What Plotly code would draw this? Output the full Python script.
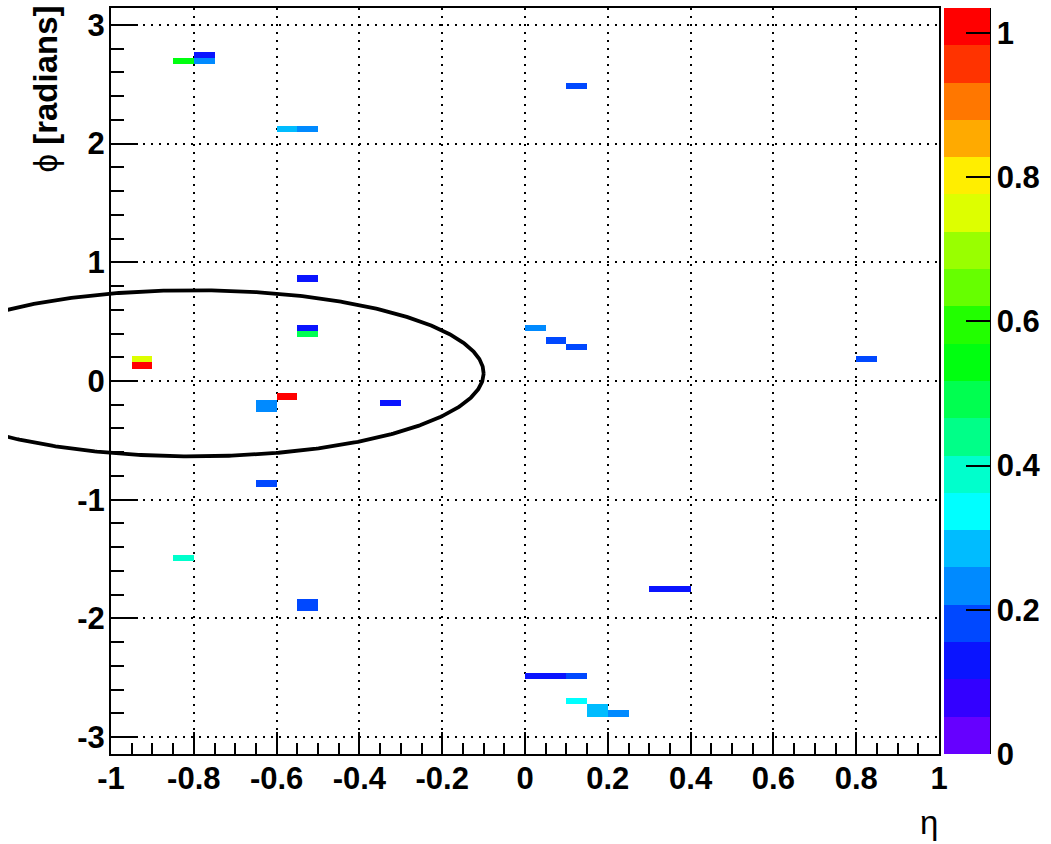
import numpy as np
import plotly.graph_objects as go

# ---------------- data ----------------
# filled cells of the 2D histogram (eta bin centre, phi bin centre, content)
cell_eta = [-0.775, -0.825, -0.775, 0.125, -0.575, -0.525, -0.525, -0.525, -0.525,
            -0.925, -0.925, 0.025, 0.075, 0.125, 0.825, -0.575, -0.625, -0.625,
            -0.325, -0.625, -0.825, -0.525, -0.525, 0.325, 0.375, 0.025, 0.075,
            0.125, 0.125, 0.175, 0.175, 0.225]
cell_phi = [2.749, 2.697, 2.697, 2.487, 2.121, 2.121, 0.864, 0.445, 0.393,
            0.183, 0.131, 0.445, 0.340, 0.288, 0.183, -0.131, -0.183, -0.236,
            -0.183, -0.864, -1.492, -1.859, -1.911, -1.754, -1.754, -2.487, -2.487,
            -2.487, -2.697, -2.749, -2.801, -2.801]
cell_val = [0.13, 0.54, 0.23, 0.18, 0.28, 0.24, 0.13, 0.13, 0.49,
            0.75, 1.035, 0.23, 0.18, 0.18, 0.19, 0.99, 0.24, 0.24,
            0.12, 0.18, 0.39, 0.18, 0.18, 0.13, 0.13, 0.12, 0.12,
            0.18, 0.34, 0.29, 0.29, 0.24]

n_eta_bins, eta_min, eta_max = 40, -1.0, 1.0
n_phi_bins = 120
z_min, z_max = 0.0, 1.0347

x_tickvals = [-1, -0.8, -0.6, -0.4, -0.2, 0, 0.2, 0.4, 0.6, 0.8, 1]
x_ticktext = ["-1", "-0.8", "-0.6", "-0.4", "-0.2", "0", "0.2", "0.4", "0.6", "0.8", "1"]
y_tickvals = [-3, -2, -1, 0, 1, 2, 3]
y_ticktext = ["-3", "-2", "-1", "0", "1", "2", "3"]
cb_tickvals = [0, 0.2, 0.4, 0.6, 0.8, 1]
cb_ticktext = ["0", "0.2", "0.4", "0.6", "0.8", "1"]

# cone drawn around the jet axis (eta, phi, radius)
cone_eta, cone_phi, cone_r = -0.8, 0.065, 0.7

band_colors = ["#6600ff", "#3300ff", "#0a14ff", "#0048ff", "#008aff",
               "#00bcff", "#00ffff", "#00ffcc", "#00ff88", "#00ff50",
               "#00ff10", "#22ff00", "#66ff00", "#99ff00", "#ddff00",
               "#ffee00", "#ffaa00", "#ff7700", "#ff3300", "#ff0000"]

# ---------------- build histogram grid ----------------
phi_min, phi_max = -np.pi, np.pi
eta_edges = np.linspace(eta_min, eta_max, n_eta_bins + 1)
phi_edges = np.linspace(phi_min, phi_max, n_phi_bins + 1)
deta = (eta_max - eta_min) / n_eta_bins
dphi = (phi_max - phi_min) / n_phi_bins
z = [[None] * n_eta_bins for _ in range(n_phi_bins)]
for e, p, v in zip(cell_eta, cell_phi, cell_val):
    i = int(np.floor((e - eta_min) / deta))
    j = int(np.floor((p - phi_min) / dphi))
    z[j][i] = v

nb = len(band_colors)
colorscale = []
for k, c in enumerate(band_colors):
    colorscale.append([k / nb, c])
    colorscale.append([(k + 1) / nb, c])

# ---------------- layout geometry (pixels) ----------------
W, H = 1051, 844
px_l, px_r, px_t, px_b = 111, 939, 8, 754
px_clip = 8

def fx(px):
    return px / W

def fy(py):
    return 1 - py / H

FONT = "Liberation Sans"
tickfont = dict(family=FONT, size=31, color="black", weight="bold")

fig = go.Figure()
fig.add_trace(go.Heatmap(
    x=eta_edges, y=phi_edges, z=z, zmin=z_min, zmax=z_max,
    colorscale=colorscale, hoverongaps=False,
    colorbar=dict(
        x=fx(944), xanchor="left", xref="paper",
        y=fy(px_t), yanchor="top", yref="paper",
        len=(px_b - px_t) / H, lenmode="fraction",
        thickness=46, thicknessmode="pixels",
        xpad=0, ypad=0, outlinewidth=0,
        ticks="inside", ticklen=24, tickwidth=2, tickcolor="black",
        tickvals=cb_tickvals, ticktext=cb_ticktext, tickfont=tickfont,
    ),
))

# cone outline, drawn on a hidden twin axis that extends a bit further left
t = np.linspace(0, 2 * np.pi, 721)
fig.add_trace(go.Scatter(
    x=cone_eta + cone_r * np.cos(t), y=cone_phi + cone_r * np.sin(t),
    xaxis="x2", yaxis="y2", mode="lines",
    line=dict(color="black", width=3.8), hoverinfo="skip", showlegend=False,
))

x2_min = eta_min - (eta_max - eta_min) * (px_l - px_clip) / (px_r - px_l)

axis_common = dict(
    showline=True, linewidth=2, linecolor="black", mirror=True,
    showgrid=True, gridcolor="black", gridwidth=2, griddash="2px,6px",
    zeroline=False, ticks="inside", tickwidth=2, tickcolor="black",
    tickfont=tickfont, layer="above traces",
)

fig.update_layout(
    width=W, height=H,
    margin=dict(l=0, r=0, t=0, b=0, autoexpand=False),
    paper_bgcolor="white", plot_bgcolor="rgba(0,0,0,0)",
    showlegend=False,
    xaxis=dict(domain=[fx(px_l), fx(px_r)], range=[eta_min, eta_max],
               tickvals=x_tickvals, ticktext=x_ticktext, ticklen=22,
               ticklabelstandoff=-4,
               minor=dict(ticks="inside", ticklen=11, tickwidth=2, tickcolor="black",
                          dtick=0.05, tick0=-1, showgrid=False),
               anchor="y", **axis_common),
    yaxis=dict(domain=[fy(px_b), fy(px_t)], range=[phi_min, phi_max],
               tickvals=y_tickvals, ticktext=y_ticktext, ticklen=27,
               ticklabelstandoff=-2,
               minor=dict(ticks="inside", ticklen=13, tickwidth=2, tickcolor="black",
                          dtick=0.2, tick0=0, showgrid=False),
               anchor="x", **axis_common),
    xaxis2=dict(domain=[fx(px_clip), fx(px_r)], range=[x2_min, eta_max],
                visible=False, showgrid=False, zeroline=False, anchor="y2"),
    yaxis2=dict(domain=[fy(px_b), fy(px_t)], range=[phi_min, phi_max],
                visible=False, showgrid=False, zeroline=False, anchor="x2"),
    shapes=[dict(type="line", xref="paper", yref="paper",
                 x0=fx(990), x1=fx(990), y0=fy(px_t), y1=fy(px_b),
                 line=dict(color="black", width=2))],
    annotations=[
        dict(text="η", xref="paper", yref="paper", x=fx(940), y=fy(802),
             xanchor="right", yanchor="top", showarrow=False,
             font=dict(family=FONT, size=33, color="black")),
        dict(text="ϕ <b>[radians]</b>", xref="paper", yref="paper",
             x=fx(45), y=fy(4), xanchor="center", yanchor="top",
             textangle=-90, showarrow=False,
             font=dict(family=FONT, size=33, color="black")),
    ],
)

fig.write_html("out.html")
